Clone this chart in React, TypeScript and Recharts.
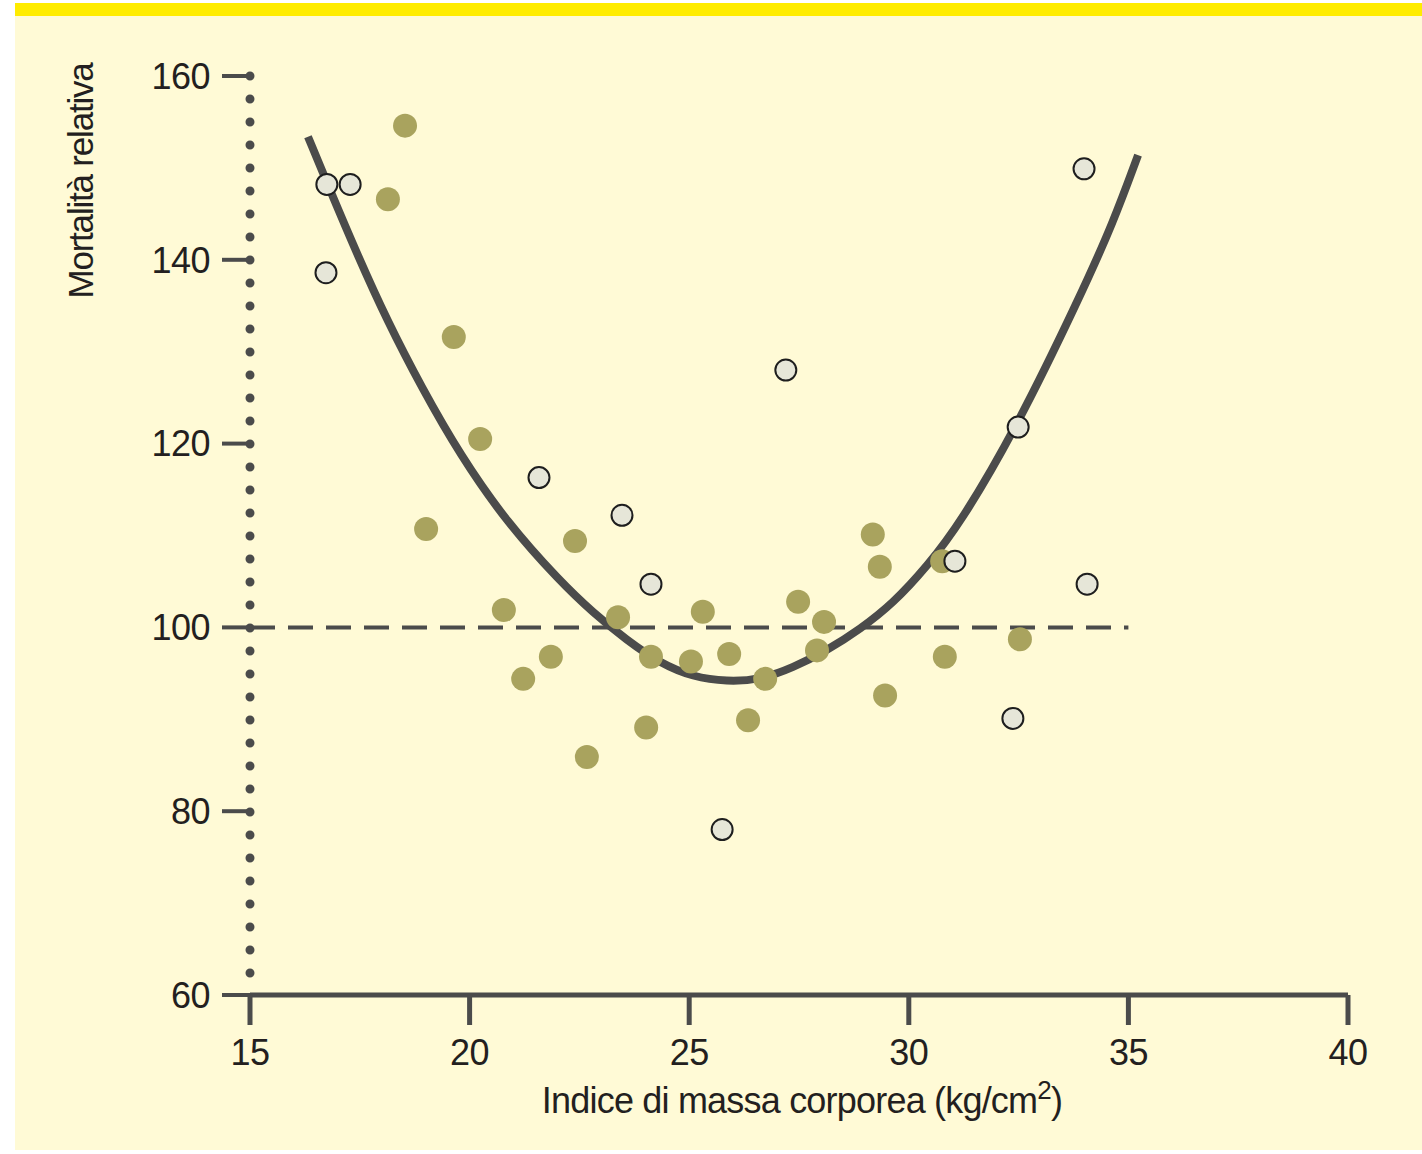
import {
  ComposedChart,
  Label,
  Line,
  Scatter,
  XAxis,
  YAxis,
} from "recharts";

// BMI / relative mortality, filled (olive) points
const bmiFilled = [
  18.53, 18.14, 19.64, 20.24, 19.01, 20.78, 21.22, 21.85, 22.4, 22.67, 23.38,
  24.13, 24.02, 25.04, 25.31, 25.91, 26.34, 26.73, 27.48, 27.91, 28.07, 29.18,
  29.34, 29.46, 30.76, 30.82, 32.53,
];
const mortFilled = [
  154.6, 146.6, 131.6, 120.5, 110.7, 101.9, 94.4, 96.8, 109.4, 85.9, 101.1,
  96.8, 89.1, 96.3, 101.7, 97.1, 89.9, 94.4, 102.8, 97.5, 100.6, 110.1, 106.6,
  92.6, 107.2, 96.8, 98.7,
];

// open (light) points
const bmiOpen = [
  16.75, 17.28, 16.73, 21.58, 23.47, 24.13, 27.2, 25.75, 31.05, 32.49, 32.37,
  33.99, 34.06,
];
const mortOpen = [
  148.2, 148.2, 138.6, 116.3, 112.2, 104.7, 128.0, 78.0, 107.2, 121.8, 90.1,
  149.9, 104.7,
];

// fitted curve
const curveBmi = [
  16.32, 16.82, 17.44, 18.12, 18.92, 19.78, 20.85, 22.06, 22.81, 23.58, 24.34,
  25.09, 25.86, 26.61, 27.36, 28.14, 28.89, 29.64, 30.41, 31.17, 32.46, 33.9,
  34.65, 35.22,
];
const curveMort = [
  153.4, 147.6, 140.6, 133.4, 126.0, 118.8, 111.4, 105.0, 101.6, 98.6, 96.1,
  94.6, 94.1, 94.3, 95.6, 97.5, 99.8, 102.6, 106.6, 111.3, 121.8, 136.0, 144.0,
  151.4,
];

const refBmi = [15, 35];
const refMort = [100, 100];

const xTicks = [15, 20, 25, 30, 35, 40];
const yTicks = [60, 80, 100, 120, 140, 160];

const filled = bmiFilled.map((x, i) => ({ x, y: mortFilled[i] }));
const open = bmiOpen.map((x, i) => ({ x, y: mortOpen[i] }));
const curve = curveBmi.map((x, i) => ({ x, y: curveMort[i] }));
const ref = refBmi.map((x, i) => ({ x, y: refMort[i] }));

const DARK = "#4b4b4b";
const TEXT = "#231f20";
const FONT = "'Liberation Sans', Arial, Helvetica, sans-serif";

const tickStyle = { fill: TEXT, fontSize: 36, fontFamily: FONT, letterSpacing: -0.5 };

const renderXTitle = () => (
  <text
    x={802}
    y={1113}
    textAnchor="middle"
    fill={TEXT}
    fontSize={36}
    fontFamily={FONT}
    letterSpacing={-0.8}
  >
    Indice di massa corporea (kg/cm
    <tspan fontSize={26} dy={-14}>
      2
    </tspan>
    <tspan dy={14}>)</tspan>
  </text>
);

const renderYTitle = () => (
  <text
    x={93}
    y={181}
    transform="rotate(-90, 93, 181)"
    textAnchor="middle"
    fill={TEXT}
    fontSize={35}
    fontFamily={FONT}
    letterSpacing={-1.2}
  >
    Mortalità relativa
  </text>
);

export default function App() {
  return (
    <div
      style={{
        position: "absolute",
        left: 0,
        top: 0,
        width: 1422,
        height: 1154,
        background: "#ffffff",
      }}
    >
      <div
        style={{
          position: "absolute",
          left: 15,
          top: 3,
          width: 1407,
          height: 13,
          background: "#ffec00",
        }}
      />
      <div
        style={{
          position: "absolute",
          left: 15,
          top: 16,
          width: 1407,
          height: 1134,
          background: "#fffad6",
        }}
      />
      <div style={{ position: "absolute", left: 0, top: 0 }}>
        <ComposedChart
          width={1422}
          height={1154}
          margin={{ top: 76, right: 74, bottom: 59, left: 100 }}
        >
          <XAxis
            dataKey="x"
            type="number"
            domain={[15, 40]}
            ticks={xTicks}
            interval={0}
            allowDataOverflow
            height={100}
            tickSize={30}
            tickMargin={14}
            tick={tickStyle}
            axisLine={{ stroke: DARK, strokeWidth: 5 }}
            tickLine={{ stroke: DARK, strokeWidth: 5 }}
          >
            <Label content={renderXTitle} />
          </XAxis>
          <YAxis
            dataKey="y"
            type="number"
            domain={[60, 160]}
            ticks={yTicks}
            interval={0}
            allowDataOverflow
            width={150}
            tickSize={28}
            tickMargin={12}
            tick={tickStyle}
            axisLine={{
              stroke: DARK,
              strokeWidth: 9,
              strokeDasharray: "0 23",
              strokeLinecap: "round",
            }}
            tickLine={{ stroke: DARK, strokeWidth: 4 }}
          >
            <Label content={renderYTitle} />
          </YAxis>
          <Line
            data={ref}
            dataKey="y"
            type="linear"
            stroke={DARK}
            strokeWidth={4}
            strokeDasharray="25 13"
            dot={false}
            activeDot={false}
            isAnimationActive={false}
          />
          <Line
            data={curve}
            dataKey="y"
            type="basis"
            stroke={DARK}
            strokeWidth={8}
            dot={false}
            activeDot={false}
            isAnimationActive={false}
          />
          <Scatter
            data={filled}
            isAnimationActive={false}
            shape={(p: any) => (
              <circle cx={p.cx} cy={p.cy} r={12} fill="#a9a35e" />
            )}
          />
          <Scatter
            data={open}
            isAnimationActive={false}
            shape={(p: any) => (
              <circle
                cx={p.cx}
                cy={p.cy}
                r={10.5}
                fill="#e6e6d8"
                stroke="#1e1e1e"
                strokeWidth={2}
              />
            )}
          />
        </ComposedChart>
      </div>
    </div>
  );
}
